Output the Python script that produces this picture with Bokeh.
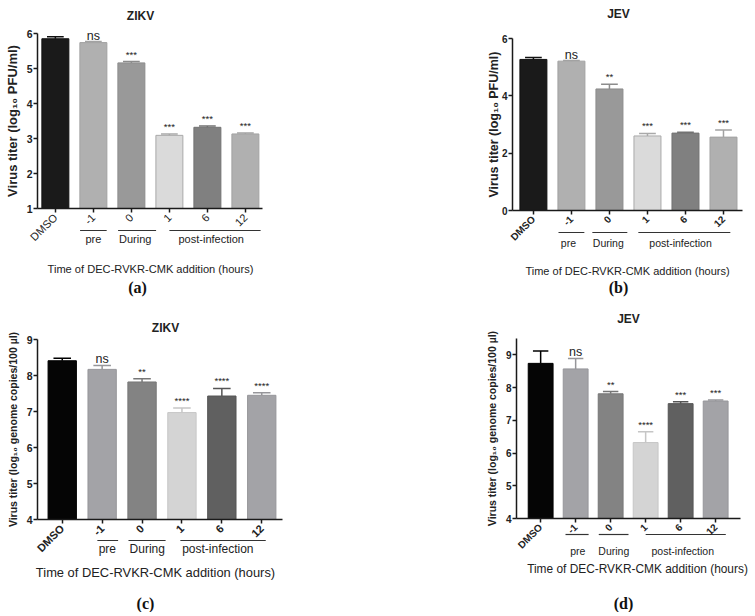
import math
from bokeh.plotting import figure
from bokeh.models import (ColumnDataSource, Range1d, FixedTicker, LabelSet, Label)
from bokeh.layouts import column, row
from bokeh.embed import file_html
from bokeh.resources import INLINE
from bokeh.core.properties import value, field

# ---------------- data ----------------
tick_labels = ["DMSO", "-1", "0", "1", "6", "12"]
group_names = ["pre", "During", "post-infection"]
panel_titles = ["ZIKV", "JEV", "ZIKV", "JEV"]
panel_letters = ["(a)", "(b)", "(c)", "(d)"]
x_title = "Time of DEC-RVKR-CMK addition (hours)"
ylabel_pfu = "Virus titer (log\u2081\u2080 PFU/ml)"
ylabel_copies = "Virus titer (log\u2081\u2080 genome copies/100 \u00b5l)"

a_titer = [5.85, 5.74, 5.16, 3.09, 3.32, 3.13]
a_err = [0.06, 0.03, 0.04, 0.04, 0.04, 0.03]
a_sig = ["", "ns", "***", "***", "***", "***"]

b_titer = [5.27, 5.21, 4.24, 2.60, 2.70, 2.56]
b_err = [0.07, 0.02, 0.16, 0.09, 0.03, 0.25]
b_sig = ["", "ns", "**", "***", "***", "***"]

c_copies = [8.41, 8.17, 7.82, 6.97, 7.43, 7.45]
c_err = [0.07, 0.11, 0.09, 0.13, 0.21, 0.07]
c_sig = ["", "ns", "**", "****", "****", "****"]

d_copies = [8.74, 8.57, 7.81, 6.32, 7.51, 7.59]
d_err = [0.38, 0.32, 0.07, 0.33, 0.06, 0.03]
d_sig = ["", "ns", "**", "****", "***", "***"]

a_y_ticks = [1, 2, 3, 4, 5, 6]
b_y_ticks = [0, 2, 4, 6]
c_y_ticks = [4, 5, 6, 7, 8, 9]
d_y_ticks = [4, 5, 6, 7, 8, 9]

# ---------------- styles ----------------
fills_ab = ["#1a1a1a", "#b0b0b0", "#999999", "#dadada", "#808080", "#b0b0b0"]
lines_ab = ["#111111", "#a2a2a2", "#8c8c8c", "#a9a9a9", "#727272", "#a2a2a2"]
fills_cd = ["#050505", "#a3a3a7", "#838383", "#d4d4d4", "#606060", "#a3a3a7"]
lines_cd = ["#000000", "#96969a", "#777777", "#c6c6c6", "#555555", "#96969a"]

FONT = "Liberation Sans"
SERIF = "Liberation Serif"
TXT = "#222222"

# Pixel geometry of each panel, relative to its figure's top-left corner:
# ax_left / ax_right: columns where the x axis starts / ends (data xr[0] / xr[1]);
# ax_top / ax_bot: rows of the y-axis ends (data yb[1] / yb[0]).
# Text positions: x from the y-axis line, y from the x-axis line (upward positive).
LAYOUT = {
    "a": dict(w=380, h=308, ax_left=37, ax_right=262, xr=(-0.47, 5.45), yb=(1, 6),
              ax_top=33, ax_bot=208,
              title_xy=(103, 193), line_y=-22, gtext_y=-30, xt_xy=(113, -60), let_xy=(100, -79),
              lines=[(0.65, 1.35), (1.65, 2.65), (3.0, 5.4)], gx=[1.0, 2.1, 4.1],
              ylab_size=13, ylab_stand=4, ytick_size=10.5, xtick_size=11, xtick_bold=False,
              gsize=11, xt_size=11.1),
    "b": dict(w=372, h=308, ax_left=132, ax_right=362, xr=(-0.55, 5.5), yb=(0, 6),
              ax_top=38, ax_bot=210,
              title_xy=(106, 197), line_y=-22, gtext_y=-32, xt_xy=(115, -60), let_xy=(106, -77),
              lines=[(0.66, 1.34), (1.55, 2.47), (2.76, 5.18)], gx=[0.92, 1.97, 3.87],
              ylab_size=12.5, ylab_stand=-2, ytick_size=10, xtick_size=10, xtick_bold=True,
              gsize=10.5, xt_size=11),
    "c": dict(w=380, h=304, ax_left=37, ax_right=282, xr=(-0.62, 5.52), yb=(4, 9),
              ax_top=31, ax_bot=211,
              title_xy=(128, 192), line_y=-21, gtext_y=-29, xt_xy=(118, -53), let_xy=(108, -84),
              lines=[(0.88, 1.4), (1.66, 2.59), (2.96, 5.1)], gx=[1.13, 2.13, 3.9],
              ylab_size=10.5, ylab_stand=5, ytick_size=10.5, xtick_size=11, xtick_bold=True,
              gsize=12, xt_size=12.9),
    "d": dict(w=372, h=304, ax_left=136, ax_right=360, xr=(-0.69, 5.71), yb=(4, 9.5),
              ax_top=30, ax_bot=210,
              title_xy=(112, 200), line_y=-16, gtext_y=-32, xt_xy=(121, -50), let_xy=(107, -85),
              lines=[(0.71, 1.37), (1.66, 2.51), (3.0, 5.29)], gx=[1.06, 2.09, 4.06],
              ylab_size=10.5, ylab_stand=5, ytick_size=10, xtick_size=10, xtick_bold=True,
              gsize=10.5, xt_size=11.9),
}


def make_panel(key, title, letter, vals, errs, sigs, yticks, ylabel, fills, lines):
    L = LAYOUT[key]
    xr0, xr1 = L["xr"]
    yb0, yb1 = L["yb"]
    upx = (xr1 - xr0) / (L["ax_right"] - L["ax_left"])
    upy = (yb1 - yb0) / (L["ax_bot"] - L["ax_top"])
    x_lo = xr0 - L["ax_left"] * upx
    x_hi = xr1 + (L["w"] - L["ax_right"]) * upx
    y_lo = yb0 - (L["h"] - L["ax_bot"]) * upy
    y_hi = yb1 + L["ax_top"] * upy

    def dx(px):
        return xr0 + px * upx

    def dy(py):
        return yb0 + py * upy

    p = figure(width=L["w"], height=L["h"], x_range=Range1d(x_lo, x_hi),
               y_range=Range1d(y_lo, y_hi), title=None,
               output_backend="svg", toolbar_location=None,
               min_border=0, min_border_left=0, min_border_right=0,
               min_border_top=0, min_border_bottom=0)
    p.outline_line_color = None
    p.xgrid.visible = False
    p.ygrid.visible = False
    p.background_fill_color = "white"
    p.border_fill_color = "white"

    xs = list(range(len(vals)))
    half_cap = 0.22
    src = ColumnDataSource(dict(
        x=xs, top=vals, upper=[v + e for v, e in zip(vals, errs)],
        capl=[x - half_cap for x in xs], capr=[x + half_cap for x in xs],
        fill=fills, line=lines, sig=sigs,
        size=["12.5px" if s == "ns" else "9.5px" for s in sigs],
        yoff=[-1 if s == "ns" else 2 for s in sigs],
    ))
    p.vbar(x="x", top="top", bottom=yb0, width=0.71, fill_color="fill", line_color="line",
           line_width=1, source=src)
    p.segment(x0="x", y0="top", x1="x", y1="upper", line_color="line", line_width=1.5, source=src)
    p.segment(x0="capl", y0="upper", x1="capr", y1="upper", line_color="line", line_width=1.5,
              source=src)
    p.add_layout(LabelSet(x="x", y="upper", text="sig", source=src, text_align="center",
                          text_baseline="bottom", y_offset=field("yoff"), text_font=value(FONT),
                          text_font_size=field("size"), text_color=TXT))

    # axes, pinned to the data origin of the bars
    for ax in (p.xaxis[0], p.yaxis[0]):
        ax.axis_line_color = "#1a1a1a"
        ax.axis_line_width = 1.5
        ax.major_tick_line_color = "#1a1a1a"
        ax.major_tick_line_width = 1.5
        ax.major_tick_in = 0
        ax.major_tick_out = 4
        ax.minor_tick_line_color = None
        ax.major_label_text_font = FONT
        ax.major_label_text_color = TXT

    xa = p.xaxis[0]
    xa.fixed_location = yb0
    xa.bounds = (xr0, xr1)
    xa.ticker = FixedTicker(ticks=xs)
    xa.major_label_overrides = {i: t for i, t in zip(xs, tick_labels)}
    xa.major_label_orientation = math.pi / 4
    xa.major_label_text_font_size = f"{L['xtick_size']}px"
    xa.major_label_text_font_style = "bold" if L["xtick_bold"] else "normal"
    xa.major_label_standoff = 3

    ya = p.yaxis[0]
    ya.fixed_location = xr0
    ya.bounds = (yb0, yb1)
    ya.ticker = FixedTicker(ticks=yticks)
    ya.major_label_text_font_size = f"{L['ytick_size']}px"
    ya.major_label_text_font_style = "bold"
    ya.major_label_standoff = 1
    ya.axis_label = ylabel
    ya.axis_label_text_font = FONT
    ya.axis_label_text_font_style = "bold"
    ya.axis_label_text_font_size = f"{L['ylab_size']}px"
    ya.axis_label_text_color = TXT
    ya.axis_label_standoff = L["ylab_stand"]

    # panel title
    tx, ty = L["title_xy"]
    p.add_layout(Label(x=dx(tx), y=dy(ty), text=title, text_align="center",
                       text_baseline="middle", text_font=FONT, text_font_style="bold",
                       text_font_size="12px", text_color=TXT))

    # group brackets and names
    gy = dy(L["line_y"])
    p.segment(x0=[a for a, _ in L["lines"]], x1=[b for _, b in L["lines"]],
              y0=[gy] * len(L["lines"]), y1=[gy] * len(L["lines"]),
              line_color="#333333", line_width=1.2)
    for gx, gname in zip(L["gx"], group_names):
        p.add_layout(Label(x=gx, y=dy(L["gtext_y"]), text=gname, text_align="center",
                           text_baseline="middle", text_font=FONT,
                           text_font_size=f"{L['gsize']}px", text_color=TXT))

    # x title
    xx, xy = L["xt_xy"]
    p.add_layout(Label(x=dx(xx), y=dy(xy), text=x_title, text_align="center",
                       text_baseline="middle", text_font=FONT,
                       text_font_size=f"{L['xt_size']}px", text_color=TXT))
    # panel letter
    lx, ly = L["let_xy"]
    p.add_layout(Label(x=dx(lx), y=dy(ly), text=letter, text_align="center",
                       text_baseline="middle", text_font=SERIF, text_font_style="bold",
                       text_font_size="16px", text_color="#111111"))
    return p


pa = make_panel("a", panel_titles[0], panel_letters[0], a_titer, a_err, a_sig, a_y_ticks,
                ylabel_pfu, fills_ab, lines_ab)
pb = make_panel("b", panel_titles[1], panel_letters[1], b_titer, b_err, b_sig, b_y_ticks,
                ylabel_pfu, fills_ab, lines_ab)
pc = make_panel("c", panel_titles[2], panel_letters[2], c_copies, c_err, c_sig, c_y_ticks,
                ylabel_copies, fills_cd, lines_cd)
pd = make_panel("d", panel_titles[3], panel_letters[3], d_copies, d_err, d_sig, d_y_ticks,
                ylabel_copies, fills_cd, lines_cd)

layout = column(row(pa, pb), row(pc, pd))

with open("out.html", "w") as f:
    f.write(file_html(layout, INLINE))
